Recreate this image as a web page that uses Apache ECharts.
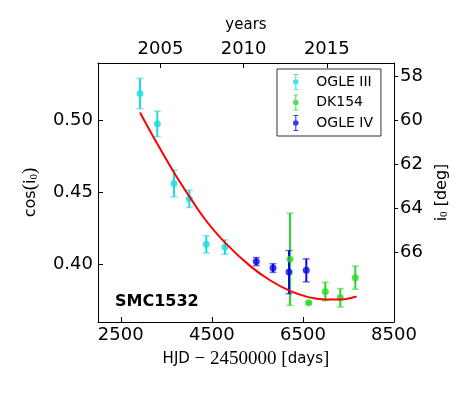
<!DOCTYPE html>
<html>
<head>
<meta charset="utf-8">
<script src="https://cdn.jsdelivr.net/npm/echarts@6/dist/echarts.min.js"></script>
<style>
  html, body { margin: 0; padding: 0; background: #fff; }
  #chart { width: 474px; height: 395px; }
</style>
</head>
<body>
<div id="chart"></div>
<script>
// 数据
const ogle3X = [2922, 3302, 3669, 4005, 4378, 4789]
const ogle3Y = [0.5188, 0.4977, 0.4563, 0.4456, 0.4140, 0.4121]
const ogle3Err = [0.0105, 0.0089, 0.0093, 0.0060, 0.0060, 0.0050]

const dk154X = [6216, 6627, 6991, 7321, 7650]
const dk154Y = [0.4036, 0.3733, 0.3812, 0.3768, 0.3908]
const dk154Err = [0.0320, 0.0008, 0.0064, 0.0064, 0.0080]

const ogle4X = [5476, 5843, 6194, 6574]
const ogle4Y = [0.4020, 0.3975, 0.3947, 0.3959]
const ogle4Err = [0.0028, 0.0030, 0.0150, 0.0080]

// 拟合曲线
const fitX = [2922, 3289, 3675, 4020, 4350, 4773, 5338, 5777, 6216, 6618, 6985, 7314, 7681]
const fitY = [0.5056, 0.4845, 0.4636, 0.4466, 0.4314, 0.4157, 0.3990, 0.3890, 0.3816, 0.3773, 0.3757, 0.3756, 0.3778]

// 刻度
const hjdTicks = [2500, 4500, 6500, 8500]
const yearTicks = [2005, 2010, 2015]
const cosTicks = [0.40, 0.45, 0.50]
const degTicks = [58, 60, 62, 64, 66]

const colors = { ogle3: '#1cdcdc', dk154: '#2ad82a', ogle4: '#0a0ae6' }

// HJD -> year (2005-01-01 = HJD 2453371.5)
const toYear = hjd => 2005 + (hjd - 3371.5) / 365.25
const xMin = 2000
const xMax = 8500

const pts = (xs, ys) => xs.map((x, i) => [x, ys[i]])
const errPts = (xs, ys, es) => xs.map((x, i) => [x, ys[i], es[i]])

// 误差棒
function errorBar(color) {
  return function(params, api) {
    const x = api.value(0)
    const y = api.value(1)
    const e = api.value(2)
    const top = api.coord([x, y + e])
    const bot = api.coord([x, y - e])
    const hw = 3.5
    return {
      type: 'group',
      children: [
        { type: 'line', shape: { x1: top[0], y1: top[1], x2: bot[0], y2: bot[1] }, style: { stroke: color, lineWidth: 2 } },
        { type: 'line', shape: { x1: top[0] - hw, y1: top[1], x2: top[0] + hw, y2: top[1] }, style: { stroke: color, lineWidth: 1.5, opacity: 0.6 } },
        { type: 'line', shape: { x1: bot[0] - hw, y1: bot[1], x2: bot[0] + hw, y2: bot[1] }, style: { stroke: color, lineWidth: 1.5, opacity: 0.6 } }
      ]
    }
  }
}

const ebIcon = 'path://M2,0H8V1.4H2Z M4.3,0H5.7V20H4.3Z M2,18.6H8V20H2Z M1.5,10A3.5,3.5 0 1,1 8.5,10A3.5,3.5 0 1,1 1.5,10Z'

const chart = echarts.init(document.getElementById('chart'), null, { renderer: 'canvas' })

const sans = 'DejaVu Sans'
const serif = 'Liberation Serif'
const plain = v => String(v)

const option = {
  animation: false,
  textStyle: { fontFamily: sans, color: '#000' },
  grid: { left: 98, right: 80, top: 63, bottom: 73 },
  legend: {
    orient: 'vertical',
    left: 277,
    top: 69,
    padding: [5, 8, 5, 16],
    itemWidth: 9,
    itemHeight: 16,
    itemGap: 4.5,
    borderColor: '#333',
    borderWidth: 1,
    backgroundColor: '#fff',
    textStyle: { fontSize: 14, color: '#000', fontFamily: sans, padding: [0, 0, 0, 11] },
    data: [
      { name: 'OGLE III', icon: ebIcon },
      { name: 'DK154', icon: ebIcon },
      { name: 'OGLE IV', icon: ebIcon }
    ]
  },
  xAxis: [
    {
      type: 'value',
      position: 'bottom',
      min: xMin,
      max: xMax,
      axisLine: { show: true, lineStyle: { color: '#000', width: 1 } },
      axisTick: { show: true, inside: true, length: 5, lineStyle: { color: '#000' }, customValues: hjdTicks },
      axisLabel: { fontSize: 18, color: '#000', margin: 4, customValues: hjdTicks, formatter: plain },
      splitLine: { show: false },
      name: '{s|HJD}{m| − 2450000 [}{s|days}{m|]}',
      nameLocation: 'middle',
      nameGap: 28,
      nameTextStyle: {
        rich: {
          s: { fontFamily: sans, fontSize: 15, color: '#000' },
          m: { fontFamily: serif, fontSize: 19, color: '#000' }
        }
      }
    },
    {
      type: 'value',
      position: 'top',
      min: toYear(xMin),
      max: toYear(xMax),
      axisLine: { show: true, lineStyle: { color: '#000', width: 1 } },
      axisTick: { show: true, inside: true, length: 5, lineStyle: { color: '#000' }, customValues: yearTicks },
      axisLabel: { fontSize: 18, color: '#000', margin: 5, customValues: yearTicks, formatter: plain },
      splitLine: { show: false },
      name: 'years',
      nameLocation: 'middle',
      nameGap: 30,
      nameTextStyle: { fontSize: 15, color: '#000', fontFamily: sans }
    }
  ],
  yAxis: [
    {
      type: 'value',
      position: 'left',
      min: 0.36,
      max: 0.54,
      axisLine: { show: true, lineStyle: { color: '#000', width: 1 } },
      axisTick: { show: true, inside: true, length: 5, lineStyle: { color: '#000' }, customValues: cosTicks },
      axisLabel: { fontSize: 18, color: '#000', margin: 5, customValues: cosTicks, formatter: v => v.toFixed(2) },
      splitLine: { show: false },
      name: '{s|cos}{m|(}{s|i}{sub|0}{m|)}',
      nameLocation: 'middle',
      nameRotate: 90,
      nameGap: 58,
      nameTextStyle: {
        rich: {
          s: { fontFamily: sans, fontSize: 16, color: '#000' },
          m: { fontFamily: serif, fontSize: 19, color: '#000' },
          sub: { fontFamily: serif, fontSize: 11, color: '#000', verticalAlign: 'bottom' }
        }
      }
    },
    {
      type: 'value',
      position: 'right',
      inverse: true,
      min: 57.41,
      max: 69.14,
      axisLine: { show: true, lineStyle: { color: '#000', width: 1 } },
      axisTick: { show: true, inside: false, length: 4, lineStyle: { color: '#000' }, customValues: degTicks },
      axisLabel: { fontSize: 18, color: '#000', margin: 6, customValues: degTicks, formatter: plain },
      splitLine: { show: false },
      name: '{s|i}{sub|0}{m| [}{s|deg}{m|]}',
      nameLocation: 'middle',
      nameRotate: 90,
      nameGap: 40,
      nameTextStyle: {
        rich: {
          s: { fontFamily: sans, fontSize: 16, color: '#000' },
          m: { fontFamily: sans, fontSize: 16, color: '#000' },
          sub: { fontFamily: serif, fontSize: 11, color: '#000', verticalAlign: 'bottom' }
        }
      }
    }
  ],
  graphic: [
    {
      type: 'text',
      left: 115,
      top: 294,
      style: { text: 'SMC1532', font: 'bold 16px "DejaVu Sans"', fill: '#000' }
    }
  ],
  series: [
    { type: 'custom', renderItem: errorBar(colors.ogle3), data: errPts(ogle3X, ogle3Y, ogle3Err), z: 2, silent: true },
    { type: 'custom', renderItem: errorBar(colors.dk154), data: errPts(dk154X, dk154Y, dk154Err), z: 2, silent: true },
    { type: 'custom', renderItem: errorBar(colors.ogle4), data: errPts(ogle4X, ogle4Y, ogle4Err), z: 2, silent: true },
    { name: 'OGLE III', type: 'scatter', data: pts(ogle3X, ogle3Y), symbolSize: 7, itemStyle: { color: colors.ogle3 }, z: 3 },
    { name: 'DK154', type: 'scatter', data: pts(dk154X, dk154Y), symbolSize: 7, itemStyle: { color: colors.dk154 }, z: 3 },
    { name: 'OGLE IV', type: 'scatter', data: pts(ogle4X, ogle4Y), symbolSize: 7, itemStyle: { color: colors.ogle4 }, z: 3 },
    {
      type: 'line',
      data: pts(fitX, fitY),
      smooth: 0.4,
      showSymbol: false,
      lineStyle: { color: '#ff0000', width: 2 },
      z: 4,
      silent: true
    }
  ]
}

chart.setOption(option)
</script>
</body>
</html>
